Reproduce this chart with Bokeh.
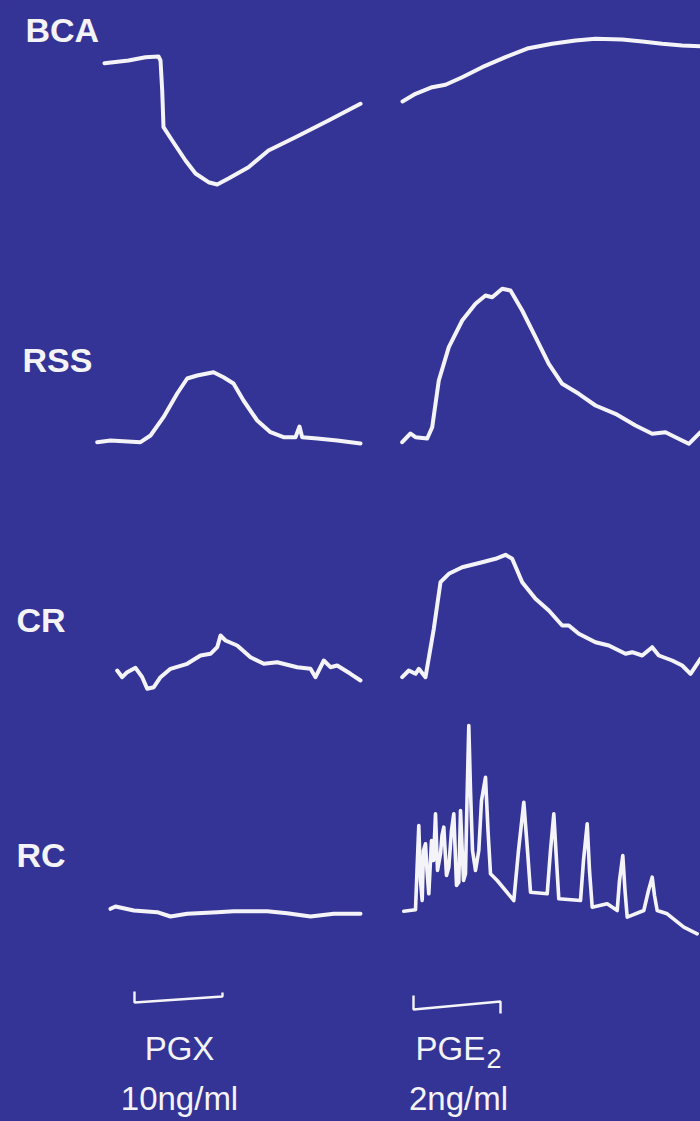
from bokeh.plotting import figure
from bokeh.models import Range1d, GlobalInlineStyleSheet
from bokeh.core.properties import value
from bokeh.embed import file_html
from bokeh.resources import INLINE

BG = "#343396"
TRACE = "#f4f4f8"

# ---- trace data (recording position, signal level) ----
bca_pgx_t = [104, 128, 145, 158, 160, 161.7, 163, 171.7, 185, 195, 208, 216.7, 228, 248, 268, 295, 328, 360]
bca_pgx_v = [62.7, 60, 56.7, 56, 60, 90, 126.7, 140, 160, 173, 181.7, 184, 178, 166.7, 150, 136.7, 120, 103.3]

bca_pge_t = [402, 415, 431.7, 445, 461.7, 481.7, 505, 528, 551.7, 575, 595, 621.7, 641.7, 661.7, 681.7, 700]
bca_pge_v = [101, 93.3, 86.7, 84.3, 76.7, 66.7, 56.7, 47.7, 43.3, 40, 38.3, 39, 41, 43.3, 45, 45.7]

rss_pgx_t = [96.7, 110, 140, 150, 163, 176.7, 186.7, 196.7, 213, 223, 233, 243, 256.7, 270, 283, 295, 299, 301.7, 316.7, 336.7, 360]
rss_pgx_v = [441.7, 440, 441.7, 435, 416.7, 393, 378, 375, 371.7, 376.7, 383, 400, 420, 431.7, 436.7, 436.7, 426, 436.7, 438, 440, 443]

rss_pge_t = [401.7, 410, 415, 426.7, 431.7, 438.3, 448.3, 461.7, 475, 485, 491.7, 501.7, 510, 521.7, 535, 548.3, 561.7, 578.3, 595, 615, 635, 651.7, 665, 675, 688.3, 700]
rss_pge_v = [441.7, 433, 436.7, 438, 426.7, 380, 346.7, 320, 303.3, 295, 296.7, 288.3, 290, 310, 336.7, 363.3, 383.3, 393.3, 405, 413.3, 425, 433.3, 431.7, 436.7, 443.3, 431.7]

cr_pgx_t = [116.7, 121.7, 126.7, 135, 141.7, 146.7, 153.3, 160, 170, 186.7, 200, 210, 216.7, 220, 225, 236.7, 250, 263.3, 276.7, 296.7, 310, 315, 323.3, 330, 336.7, 350, 360]
cr_pgx_v = [670, 676.7, 671.7, 667.3, 676.7, 688.3, 686.7, 676.7, 668.3, 663.3, 655, 653.3, 646.7, 635, 640, 645, 656.7, 663.3, 661.7, 666.7, 668.3, 676.7, 660, 666.7, 665, 673.3, 680]

cr_pge_t = [401.7, 408.3, 415, 418.3, 425, 433.3, 440, 448.3, 461.7, 481.7, 495, 505, 511.7, 521.7, 535, 548.3, 561.7, 568.3, 578.3, 595, 608.3, 625, 631.7, 641.7, 651.7, 658.3, 671.7, 681.7, 690, 700]
cr_pge_v = [676.7, 670, 673.3, 668.3, 676.7, 628.3, 581.7, 573.3, 566.7, 561.7, 558.3, 554.3, 558.3, 581.7, 598.3, 610, 625, 625, 633.3, 641.7, 645, 653.3, 651.7, 655, 646.7, 655, 660, 665, 673.3, 658.3]

rc_pgx_t = [110, 115, 133.3, 156.7, 170, 186.7, 216.7, 233.3, 266.7, 286.7, 310, 333.3, 360]
rc_pgx_v = [908.3, 906, 910, 911.7, 916, 913.3, 911.7, 910.7, 910.7, 912.7, 916, 913.3, 913.3]

rc_pge_t = [403.3, 415, 416.5, 418.3, 420, 421.7, 423, 425, 426.5, 428.3, 431, 433, 435, 437, 440, 441.5, 443.3, 446, 448.3, 451, 453.3, 456, 458.3, 460, 463, 465, 466.5, 468.3, 470, 472, 475, 478.3, 481, 485, 487.5, 490, 496.7, 513.3, 518, 523.3, 527, 530, 546.7, 550, 553.3, 556, 558.3, 580, 583, 586.7, 589, 591.7, 606.7, 616.7, 619, 622.3, 624.5, 626.7, 643.3, 648, 651.7, 654, 656.7, 666.7, 683.3, 696.7]
rc_pge_v = [910.7, 909.3, 870, 825, 880, 900, 850, 843.3, 870, 893.3, 840, 860, 813.3, 870, 853.3, 835, 826.7, 875, 866.7, 830, 813.3, 885, 881.7, 810, 880, 873.3, 800, 725, 790, 850, 870, 850, 800, 776.7, 830, 873.3, 880, 900, 850, 801.7, 850, 891.7, 893.3, 850, 813.3, 860, 898.3, 900, 860, 823.3, 870, 906.7, 903.3, 910, 880, 855, 890, 916.7, 910, 890, 876.7, 895, 910, 913.3, 926.7, 933.3]

# ---- scale bars (dose application periods) ----
bar_pgx_t = [134, 134, 222, 222]
bar_pgx_v = [991, 1002, 996, 992]
bar_pge_t = [413, 413, 500, 500]
bar_pge_v = [995, 1009, 1001, 1013]

# ---- labels ----
row_labels = ["BCA", "RSS", "CR", "RC"]
row_label_x = [25, 22, 16, 16]
row_label_y = [29, 359, 619, 854]

drug_labels = ["PGX", "PGE"]
dose_labels = ["10ng/ml", "2ng/ml"]

p = figure(width=700, height=1121,
           x_range=Range1d(0, 700), y_range=Range1d(1121, 0),
           output_backend="svg", toolbar_location=None,
           x_axis_location=None, y_axis_location=None,
           min_border=0, background_fill_color=BG, border_fill_color=BG,
           outline_line_color=None)
p.grid.visible = False
p.stylesheets = [GlobalInlineStyleSheet(css=f"html, body {{ background: {BG}; }}")]

traces = [(bca_pgx_t, bca_pgx_v), (bca_pge_t, bca_pge_v),
          (rss_pgx_t, rss_pgx_v), (rss_pge_t, rss_pge_v),
          (cr_pgx_t, cr_pgx_v), (cr_pge_t, cr_pge_v),
          (rc_pgx_t, rc_pgx_v)]
for t, v in traces:
    p.line(t, v, line_color=TRACE, line_width=4, line_join="round", line_cap="round")
p.line(rc_pge_t, rc_pge_v, line_color=TRACE, line_width=3.6, line_join="round", line_cap="round")

for t, v in [(bar_pgx_t, bar_pgx_v), (bar_pge_t, bar_pge_v)]:
    p.line(t, v, line_color=TRACE, line_width=2.4)

font = value("Liberation Sans")
p.text(x=row_label_x, y=row_label_y, text=row_labels, text_font=font,
       text_font_style="bold", text_font_size="34px", text_color=TRACE,
       text_align="left", text_baseline="alphabetic")

p.text(x=[179], y=[1048], text=[drug_labels[0]], text_font=font,
       text_font_size="33px", text_color=TRACE, text_align="center", text_baseline="alphabetic")
p.text(x=[415], y=[1048], text=[drug_labels[1]], text_font=font,
       text_font_size="33px", text_color=TRACE, text_align="left", text_baseline="alphabetic")
p.text(x=[486], y=[1058], text=["2"], text_font=font,
       text_font_size="27px", text_color=TRACE, text_align="left", text_baseline="alphabetic")
p.text(x=[179, 458], y=[1098, 1098], text=dose_labels, text_font=font,
       text_font_size="33px", text_color=TRACE, text_align="center", text_baseline="alphabetic")

open("out.html", "w").write(file_html(p, INLINE))
